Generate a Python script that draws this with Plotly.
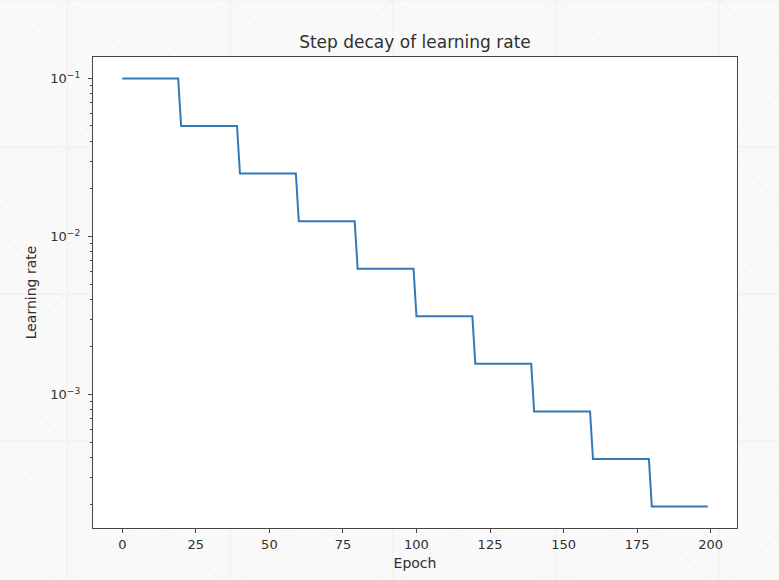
import plotly.graph_objects as go

# Step decay: learning rate held for 20 epochs, then halved
epochs = [0, 19, 20, 39, 40, 59, 60, 79, 80, 99, 100, 119, 120, 139, 140, 159, 160, 179, 180, 199]
learning_rate = [0.1, 0.1, 0.05, 0.05, 0.025, 0.025, 0.0125, 0.0125, 0.00625, 0.00625,
                 0.003125, 0.003125, 0.0015625, 0.0015625, 0.00078125, 0.00078125,
                 0.000390625, 0.000390625, 0.0001953125, 0.0001953125]
x_ticks = [0, 25, 50, 75, 100, 125, 150, 175, 200]
y_ticks = [1e-3, 1e-2, 1e-1]
y_tick_labels = ["10<sup>−3</sup>", "10<sup>−2</sup>", "10<sup>−1</sup>"]
minor_vals = [m * 10 ** e for e in (-4, -3, -2) for m in range(2, 10)]

fig = go.Figure()
fig.add_trace(go.Scatter(x=epochs, y=learning_rate, mode="lines",
                         line=dict(color="#3479b6", width=2)))

W, H = 779, 580
L, R, T, B = 93, 737, 57, 528
tick_font = dict(family="DejaVu Sans", size=13, color="#303030")
label_font = dict(family="DejaVu Sans", size=14, color="#303030")

# faint decorative lattice in the page background (outside the plot area)
bg_col = "#eeeeee"
shapes = []
cw, ch = 163, 147
x0s = [67 - cw + cw * i for i in range(7)]
y0s = [ch * j for j in range(5)]


def px(xv):
    return (xv - L) / (R - L)


def py(yv):
    return (B - yv) / (B - T)


for xv in x0s:
    shapes.append(dict(type="line", xref="paper", yref="paper", layer="below",
                       x0=px(xv), x1=px(xv), y0=py(0), y1=py(H),
                       line=dict(color=bg_col, width=1)))
for yv in y0s:
    shapes.append(dict(type="line", xref="paper", yref="paper", layer="below",
                       x0=px(0), x1=px(W), y0=py(yv), y1=py(yv),
                       line=dict(color=bg_col, width=1)))
for xv in x0s:
    for yv in y0s:
        for (ax, ay, bx, by) in ((xv, yv, xv + cw, yv + ch), (xv + cw, yv, xv, yv + ch)):
            shapes.append(dict(type="line", xref="paper", yref="paper", layer="below",
                               x0=px(ax), x1=px(bx), y0=py(ay), y1=py(by),
                               line=dict(color="#f1f1f1", width=1)))
# keep the plot area itself clean white
shapes.append(dict(type="rect", xref="paper", yref="paper", layer="below",
                   x0=0, x1=1, y0=0, y1=1, fillcolor="white", line=dict(width=0)))

fig.update_layout(
    width=W, height=H,
    margin=dict(l=L, r=W - R, t=T, b=H - B),
    paper_bgcolor="#f9f9f9", plot_bgcolor="white",
    showlegend=False,
    font=tick_font,
    shapes=shapes,
    title=dict(text="Step decay of learning rate", x=(L + R) / 2 / W, xanchor="center",
               y=1 - 42 / H, yanchor="middle", font=dict(family="DejaVu Sans", size=17, color="#303030")),
    xaxis=dict(range=[-9.95, 208.95], tickvals=x_ticks, ticks="outside", ticklen=4,
               tickcolor="#444", tickfont=tick_font, showgrid=False, zeroline=False, showline=True,
               linecolor="#444", linewidth=1.3, mirror=True,
               title=dict(text="Epoch", standoff=7, font=label_font)),
    yaxis=dict(type="log", range=[-3.845, -0.8645], tickvals=y_ticks, ticktext=y_tick_labels,
               ticks="outside", ticklen=4, tickcolor="#444", tickfont=tick_font, showgrid=False,
               ticklabelstandoff=5,
               zeroline=False, showline=True, linecolor="#444", linewidth=1.3, mirror=True,
               minor=dict(tickvals=minor_vals, ticks="outside", ticklen=2, tickcolor="#444", showgrid=False),
               title=dict(text="Learning rate", standoff=10, font=label_font)),
)

fig.write_html("out.html", config={"displayModeBar": False},
               post_script="document.body.style.margin='0';document.body.style.overflow='hidden';")
